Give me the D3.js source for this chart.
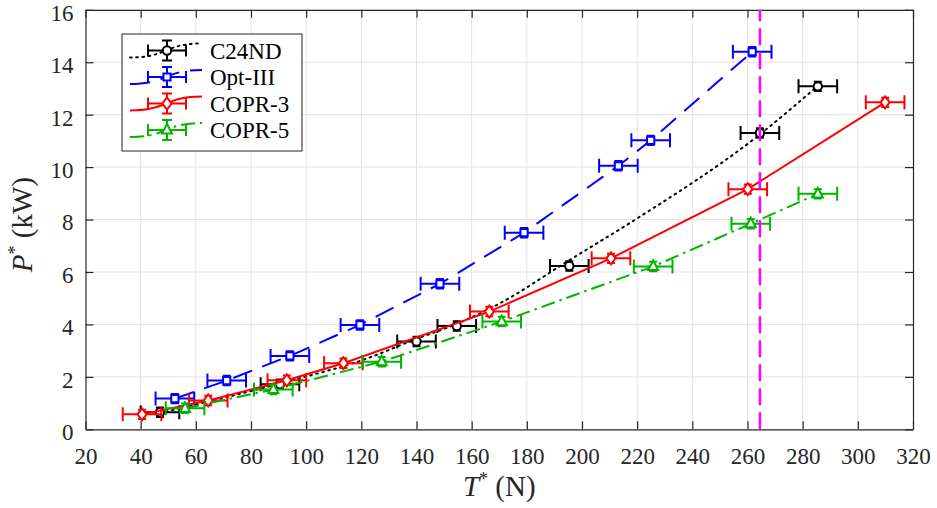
<!DOCTYPE html>
<html>
<head>
<meta charset="utf-8">
<script src="https://cdn.jsdelivr.net/npm/d3@7"></script>
<style>
  html, body { margin: 0; padding: 0; background: #ffffff; }
  svg { display: block; }
</style>
</head>
<body>
<svg id="chart" width="937" height="508" font-family="Liberation Serif"></svg>
<script>
// ---- data: thrust T* (N) and power P* (kW) per propeller ----
const seriesNames = ["C24ND", "Opt-III", "COPR-3", "COPR-5"];

const c24ndT = [47, 90.5, 140, 154.6, 195.4, 264.5, 285.5];
const c24ndP = [0.65, 1.72, 3.35, 3.94, 6.23, 11.3, 13.08];

const opt3T = [52.4, 71.2, 94.1, 119.5, 148.5, 179, 213.2, 224.9, 261.7];
const opt3P = [1.17, 1.86, 2.8, 3.98, 5.55, 7.5, 10.05, 11.02, 14.4];

const copr3T = [40.5, 64.5, 93, 113.5, 166.4, 210.5, 260.1, 309.9];
const copr3P = [0.57, 1.1, 1.87, 2.52, 4.49, 6.52, 9.16, 12.47];

const copr5T = [56.1, 88.1, 127.4, 170.9, 225.8, 261.2, 285.5];
const copr5P = [0.8, 1.52, 2.58, 4.11, 6.21, 7.84, 8.98];

// trend curve of C24ND (dotted), sampled along its course
const c24ndFitT = [47, 90.5, 122, 140, 154.6, 170.3, 195.4, 218.6, 264.5, 285.5];
const c24ndFitP = [0.62, 1.75, 2.7, 3.45, 4.02, 4.81, 6.45, 7.95, 11.25, 13.1];

// measurement uncertainty
const errT = 7;      // N, horizontal
const errP = 0.18;   // kW, vertical

const limitT = 264.5; // vertical reference line

const xTicks = d3.range(20, 321, 20);
const yTicks = d3.range(0, 17, 2);

// ---- layout ----
const FONT = "Liberation Serif";
const svg = d3.select("#chart");
const plotL = 85.5, plotR = 913, plotT = 9.8, plotB = 429.3;
const x = d3.scaleLinear().domain([20, 320]).range([plotL, plotR]);
const y = d3.scaleLinear().domain([0, 16]).range([plotB, plotT]);

const axisColor = "#262626";
const gridColor = "#e3e3e3";
const tickFont = 23;

// grid
const grid = svg.append("g");
grid.selectAll("line.gx").data(xTicks.slice(1, -1)).join("line")
  .attr("x1", d => x(d)).attr("x2", d => x(d))
  .attr("y1", plotT).attr("y2", plotB)
  .attr("stroke", gridColor).attr("stroke-width", 1);
grid.selectAll("line.gy").data(yTicks.slice(1, -1)).join("line")
  .attr("x1", plotL).attr("x2", plotR)
  .attr("y1", d => y(d)).attr("y2", d => y(d))
  .attr("stroke", gridColor).attr("stroke-width", 1);

// axes with inward ticks on all four sides
const tickLen = 8;
const xAxisB = d3.axisBottom(x).tickValues(xTicks).tickSizeInner(-tickLen).tickSizeOuter(0).tickPadding(18);
const yAxisL = d3.axisLeft(y).tickValues(yTicks).tickSizeInner(-tickLen).tickSizeOuter(0).tickPadding(12);
const xAxisT = d3.axisTop(x).tickValues(xTicks).tickSizeInner(-tickLen).tickSizeOuter(0).tickFormat("");
const yAxisR = d3.axisRight(y).tickValues(yTicks).tickSizeInner(-tickLen).tickSizeOuter(0).tickFormat("");

function styleAxis(g) {
  g.attr("font-family", FONT).attr("font-size", tickFont);
  g.select(".domain").attr("stroke", axisColor).attr("stroke-width", 1.2);
  g.selectAll(".tick line").attr("stroke", axisColor).attr("stroke-width", 1.2);
  g.selectAll(".tick text").attr("fill", axisColor);
}

const axes = svg.append("g");
axes.append("g").attr("transform", `translate(0,${plotB})`).call(xAxisB).call(styleAxis);
axes.append("g").attr("transform", `translate(${plotL},0)`).call(yAxisL).call(styleAxis)
  .selectAll(".tick text").attr("dy", "0.45em");
axes.append("g").attr("transform", `translate(0,${plotT})`).call(xAxisT).call(styleAxis);
axes.append("g").attr("transform", `translate(${plotR},0)`).call(yAxisR).call(styleAxis);

// axis titles
const xt = svg.append("text").attr("x", (plotL + plotR) / 2).attr("y", 496)
  .attr("text-anchor", "middle").attr("font-family", FONT).attr("font-size", 29).attr("fill", axisColor);
xt.append("tspan").attr("font-style", "italic").text("T");
xt.append("tspan").attr("dy", -11).attr("font-size", 18).text("*");
xt.append("tspan").attr("dy", 11).text(" (N)");

const yt = svg.append("text").attr("transform", `translate(32,${(plotT + plotB) / 2 + 5}) rotate(-90)`)
  .attr("text-anchor", "middle").attr("font-family", FONT).attr("font-size", 29).attr("fill", axisColor);
yt.append("tspan").attr("font-style", "italic").text("P");
yt.append("tspan").attr("dy", -11).attr("font-size", 18).text("*");
yt.append("tspan").attr("dy", 11).text(" (kW)");

// ---- series ----
const zip = (a, b) => a.map((v, i) => [v, b[i]]);

const series = [
  { name: seriesNames[0], color: "#000000", dash: "1.6,4.6", cap: "round", marker: "circle",
    pts: zip(c24ndT, c24ndP), line: zip(c24ndFitT, c24ndFitP), curve: d3.curveMonotoneX },
  { name: seriesNames[1], color: "#0000ff", dash: "20,11", cap: "butt", marker: "square",
    pts: zip(opt3T, opt3P), line: zip(opt3T, opt3P), curve: d3.curveLinear },
  { name: seriesNames[2], color: "#ff0000", dash: null, cap: "butt", marker: "diamond",
    pts: zip(copr3T, copr3P), line: zip(copr3T, copr3P), curve: d3.curveLinear },
  { name: seriesNames[3], color: "#00b400", dash: "14,5,2.5,5", cap: "butt", marker: "triangle",
    pts: zip(copr5T, copr5P), line: zip(copr5T, copr5P), curve: d3.curveLinear }
];

const markerPath = {
  circle: "M4.2,0A4.2,4.2 0 1,1 -4.2,0A4.2,4.2 0 1,1 4.2,0Z",
  square: "M-3.6,-3.6H3.6V3.6H-3.6Z",
  diamond: "M0,-6L4.6,0L0,6L-4.6,0Z",
  triangle: "M0,-6L5,3.6H-5Z"
};

const lw = 2;
const capH = 7;   // half height of horizontal-bar caps
const capW = 4;   // half width of vertical-bar caps

const plot = svg.append("g");

series.forEach(s => {
  const g = plot.append("g");
  const line = d3.line().x(d => x(d[0])).y(d => y(d[1])).curve(s.curve);
  g.append("path").attr("d", line(s.line))
    .attr("fill", "none").attr("stroke", s.color).attr("stroke-width", lw)
    .attr("stroke-dasharray", s.dash).attr("stroke-linecap", s.cap);

  const bars = g.append("g").attr("stroke", s.color).attr("stroke-width", lw).attr("fill", "none");
  bars.selectAll("path").data(s.pts).join("path").attr("d", d => {
    const cx = x(d[0]), cy = y(d[1]);
    const x0 = x(d[0] - errT), x1 = x(d[0] + errT);
    const y0 = y(d[1] - errP), y1 = y(d[1] + errP);
    return `M${x0},${cy}H${x1}M${x0},${cy - capH}V${cy + capH}M${x1},${cy - capH}V${cy + capH}` +
           `M${cx},${y0}V${y1}M${cx - capW},${y0}H${cx + capW}M${cx - capW},${y1}H${cx + capW}`;
  });

  g.selectAll("path.mk").data(s.pts).join("path").attr("class", "mk")
    .attr("transform", d => `translate(${x(d[0])},${y(d[1])})`)
    .attr("d", markerPath[s.marker])
    .attr("fill", "#ffffff").attr("stroke", s.color).attr("stroke-width", lw);
});

// vertical reference line
svg.append("line")
  .attr("x1", x(limitT)).attr("x2", x(limitT))
  .attr("y1", y(0)).attr("y2", y(16))
  .attr("stroke", "#ff00ff").attr("stroke-width", 2.5)
  .attr("stroke-dasharray", "17,7");

// ---- legend ----
const lg = svg.append("g");
lg.append("rect").attr("x", 122).attr("y", 34).attr("width", 180).attr("height", 117)
  .attr("fill", "#ffffff").attr("stroke", axisColor).attr("stroke-width", 1);
series.forEach((s, i) => {
  const cy = 50.5 + i * 26.5;
  const g = lg.append("g");
  g.append("path")
    .attr("d", `M130,${cy + 7}C168,${cy + 7} 164,${cy - 7} 202,${cy - 7}`)
    .attr("fill", "none").attr("stroke", s.color).attr("stroke-width", lw)
    .attr("stroke-dasharray", s.dash).attr("stroke-linecap", s.cap);
  const mx = 167;
  g.append("path")
    .attr("d", `M148,${cy}H186M148,${cy - 6}V${cy + 6}M186,${cy - 6}V${cy + 6}` +
               `M${mx},${cy - 10}V${cy + 10}M${mx - 5},${cy - 10}H${mx + 5}M${mx - 5},${cy + 10}H${mx + 5}`)
    .attr("fill", "none").attr("stroke", s.color).attr("stroke-width", lw);
  g.append("path").attr("transform", `translate(${mx},${cy})`)
    .attr("d", markerPath[s.marker])
    .attr("fill", "#ffffff").attr("stroke", s.color).attr("stroke-width", lw);
  g.append("text").attr("x", 210).attr("y", cy + 8)
    .attr("font-family", FONT).attr("font-size", 23).attr("fill", "#000").text(s.name);
});
</script>
</body>
</html>
